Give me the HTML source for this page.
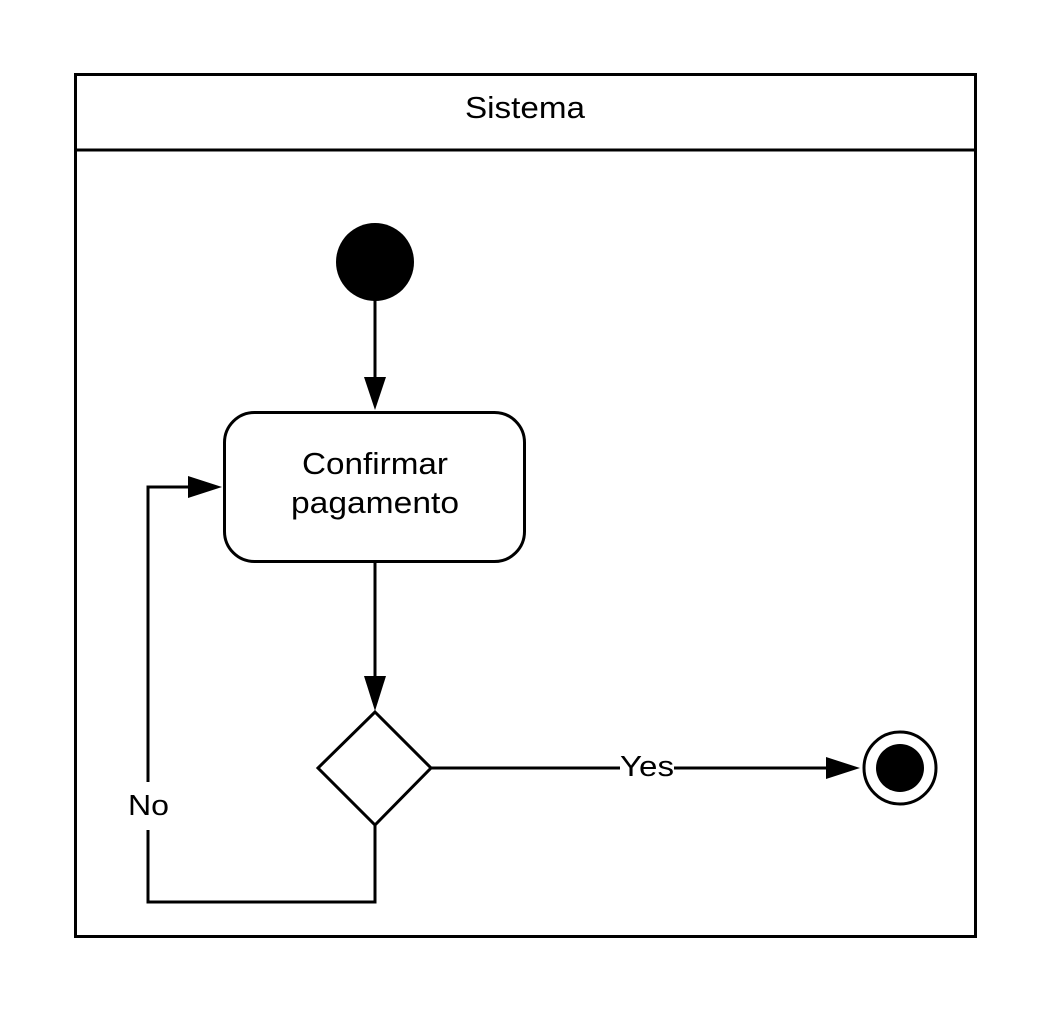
<!DOCTYPE html>
<html><head><style>body{margin:0;background:#fff}svg{display:block}</style></head><body>
<svg width="1050" height="1013" xmlns="http://www.w3.org/2000/svg" font-family="Liberation Sans, sans-serif">
<rect x="75.5" y="74.5" width="900" height="862" fill="#fff" stroke="#000" stroke-width="3"/>
<line x1="75" y1="150" x2="975" y2="150" stroke="#000" stroke-width="3"/>
<text x="465" y="118" font-size="31" textLength="120" lengthAdjust="spacingAndGlyphs">Sistema</text>
<circle cx="375" cy="262" r="39" fill="#000"/>
<line x1="375" y1="300" x2="375" y2="380" stroke="#000" stroke-width="3"/>
<polygon points="364,377 386,377 375,410" fill="#000"/>
<rect x="224.5" y="412.5" width="300" height="149" rx="30" fill="#fff" stroke="#000" stroke-width="3"/>
<text x="302" y="474" font-size="31" textLength="146" lengthAdjust="spacingAndGlyphs">Confirmar</text>
<text x="291" y="513" font-size="31" textLength="168" lengthAdjust="spacingAndGlyphs">pagamento</text>
<line x1="375" y1="562" x2="375" y2="680" stroke="#000" stroke-width="3"/>
<polygon points="364,676 386,676 375,711" fill="#000"/>
<polygon points="375,712 431,768 375,825 318,768" fill="#fff" stroke="#000" stroke-width="3"/>
<polyline points="375,825 375,902 148,902 148,830" fill="none" stroke="#000" stroke-width="3"/>
<polyline points="148,782 148,487 192,487" fill="none" stroke="#000" stroke-width="3"/>
<polygon points="188,476 188,498 222,487" fill="#000"/>
<text x="128" y="815" font-size="29" textLength="41" lengthAdjust="spacingAndGlyphs">No</text>
<line x1="431" y1="768" x2="620" y2="768" stroke="#000" stroke-width="3"/>
<line x1="674" y1="768" x2="830" y2="768" stroke="#000" stroke-width="3"/>
<polygon points="826,757 826,779 860,768" fill="#000"/>
<text x="620" y="776" font-size="29" textLength="54" lengthAdjust="spacingAndGlyphs">Yes</text>
<circle cx="900" cy="768" r="36" fill="#fff" stroke="#000" stroke-width="3"/>
<circle cx="900" cy="768" r="24" fill="#000"/>
</svg>
</body></html>
